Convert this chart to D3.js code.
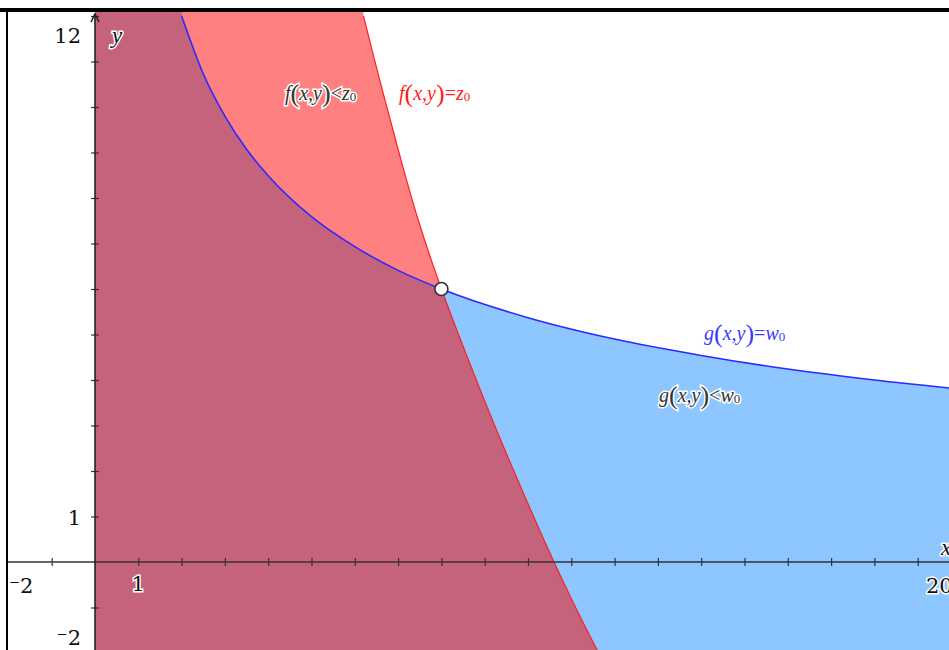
<!DOCTYPE html>
<html>
<head>
<meta charset="utf-8">
<script src="https://cdn.jsdelivr.net/npm/d3@7"></script>
<style>
  body { margin: 0; background: #fff; }
  svg { display: block; }
  .lbl { font-family: "Liberation Serif", serif; font-size: 20px; }
  .num { font-family: "DejaVu Serif", serif; font-size: 21px; fill: #111;
         stroke: #fff; stroke-width: 3px; paint-order: stroke; }
</style>
</head>
<body>
<div id="chart"></div>
<script>
// window bounds
var xDomain = [-2, 20];
var yDomain = [-2, 12];

// g(x,y)=w0 boundary
var gX = [2, 2.5, 3, 3.5, 4, 5, 6, 7, 8, 10, 12, 14, 16, 18, 20.2];
var gY = [12, 10.73, 9.8, 9.07, 8.49, 7.59, 6.93, 6.41, 6, 5.37, 4.9, 4.54, 4.24, 4.0, 3.78];

// f(x,y)=z0 boundary
var fX = [6.2, 6.6, 7.02, 7.47, 8.0, 8.6, 9.23, 9.9, 10.6, 11.1, 11.63];
var fY = [12, 10.5, 9, 7.5, 6, 4.5, 3, 1.5, 0, -1, -2];

var pt = [8, 6];

var xTicks = d3.range(-1, 21).filter(function(d) { return d !== 0; });
var yTicks = d3.range(-1, 13).filter(function(d) { return d !== 0; });

var W = 949, H = 650;
var svg = d3.select("#chart").append("svg")
  .attr("width", W).attr("height", H);

var x = d3.scaleLinear().domain(xDomain).range([8.4, 961]);
var y = d3.scaleLinear().domain(yDomain).range([653, 16]);

var defs = svg.append("defs");
defs.append("clipPath").attr("id", "plot")
  .append("rect").attr("x", 8).attr("y", 12).attr("width", W - 8).attr("height", H - 12);

var gPts = gX.map(function(d, i) { return [d, gY[i]]; });
var fPts = fX.map(function(d, i) { return [d, fY[i]]; });

var gArea = d3.area()
  .x(function(d) { return x(d[0]); })
  .y0(y(-3))
  .y1(function(d) { return y(d[1]); })
  .curve(d3.curveMonotoneX);

var fArea = d3.area()
  .y(function(d) { return y(d[1]); })
  .x0(x(0))
  .x1(function(d) { return x(d[0]); })
  .curve(d3.curveCatmullRom);

var gLine = d3.line()
  .x(function(d) { return x(d[0]); })
  .y(function(d) { return y(d[1]); })
  .curve(d3.curveMonotoneX);

var fLine = d3.line()
  .x(function(d) { return x(d[0]); })
  .y(function(d) { return y(d[1]); })
  .curve(d3.curveCatmullRom);

// region below g curve (x >= 0), used to cut the overlap
var gClip = defs.append("clipPath").attr("id", "gclip");
gClip.append("path").attr("d", gArea(gPts));
gClip.append("rect")
  .attr("x", x(0)).attr("y", 0)
  .attr("width", x(gX[0]) - x(0) + 0.5).attr("height", H);

var plot = svg.append("g").attr("clip-path", "url(#plot)");

plot.append("path").attr("d", gArea(gPts)).attr("fill", "#8ec6ff");
plot.append("rect")
  .attr("x", x(0)).attr("y", 0)
  .attr("width", x(gX[0]) - x(0) + 0.5).attr("height", H)
  .attr("fill", "#8ec6ff");

function fRegion(sel, color) {
  sel.append("path").attr("d", fArea(fPts)).attr("fill", color);
  sel.append("rect")
    .attr("x", x(0)).attr("y", 0)
    .attr("width", x(fX[0]) - x(0)).attr("height", y(fY[0]) + 0.5)
    .attr("fill", color);
}
fRegion(plot.append("g"), "#ff8080");
fRegion(plot.append("g").attr("clip-path", "url(#gclip)"), "#c5637c");

plot.append("path").attr("d", gLine(gPts))
  .attr("fill", "none").attr("stroke", "#2a2aff").attr("stroke-width", 1.6);
plot.append("path").attr("d", fLine(fPts))
  .attr("fill", "none").attr("stroke", "#ff2020").attr("stroke-width", 1.2);

// axes
var xAxis = plot.append("g")
  .attr("transform", "translate(0," + y(0) + ")")
  .call(d3.axisBottom(x).tickValues(xTicks).tickSize(4).tickFormat(""));
xAxis.select(".domain").remove();
xAxis.selectAll(".tick line").attr("y1", -4).attr("stroke", "#333").attr("stroke-width", 1.2);
plot.append("line")
  .attr("x1", 8).attr("x2", W).attr("y1", y(0)).attr("y2", y(0))
  .attr("stroke", "#333").attr("stroke-width", 1.6);

var yAxis = plot.append("g")
  .attr("transform", "translate(" + x(0) + ",0)")
  .call(d3.axisLeft(y).tickValues(yTicks).tickSize(4).tickFormat(""));
yAxis.select(".domain").remove();
yAxis.selectAll(".tick line").attr("x1", 4).attr("stroke", "#333").attr("stroke-width", 1.2);
plot.append("line")
  .attr("x1", x(0)).attr("x2", x(0)).attr("y1", 14).attr("y2", H)
  .attr("stroke", "#222").attr("stroke-width", 1.6);
plot.append("path")
  .attr("d", "M" + (x(0) - 4) + ",22 L" + x(0) + ",14 L" + (x(0) + 4) + ",22")
  .attr("fill", "none").attr("stroke", "#222").attr("stroke-width", 1.6);

// axis names
svg.append("text").attr("class", "num")
  .attr("x", 112).attr("y", 43)
  .style("font-style", "italic").style("font-family", "Liberation Serif")
  .style("font-size", "23px").text("y");
svg.append("text").attr("class", "num")
  .attr("x", 941).attr("y", 555)
  .style("font-style", "italic").style("font-family", "Liberation Serif")
  .style("font-size", "23px").text("x");

// tick labels
var numLabels = [
  {t: "12", x: 81, y: 43, a: "end"},
  {t: "1", x: 81, y: 525, a: "end"},
  {t: "\u207B2", x: 9, y: 593, a: "start"},
  {t: "1", x: x(1), y: 591, a: "middle"},
  {t: "\u207B2", x: 81, y: 645, a: "end"},
  {t: "20", x: 926, y: 593, a: "start"}
];
svg.selectAll(".numlab").data(numLabels).enter()
  .append("text").attr("class", "num")
  .attr("x", function(d) { return d.x; })
  .attr("y", function(d) { return d.y; })
  .attr("text-anchor", function(d) { return d.a; })
  .text(function(d) { return d.t; });

// intersection point
svg.append("circle")
  .attr("cx", x(pt[0])).attr("cy", y(pt[1])).attr("r", 6.5)
  .attr("fill", "#fff").attr("stroke", "#333").attr("stroke-width", 1.6);

// math labels
function mathLabel(px, py, fn, rel, rhs, color, halo) {
  var t = svg.append("text").attr("class", "lbl")
    .attr("x", px).attr("y", py).attr("fill", color);
  if (halo) t.attr("stroke", "#fff").attr("stroke-width", 3).style("paint-order", "stroke");
  t.append("tspan").style("font-style", "italic").text(fn);
  t.append("tspan").style("font-size", "26px").attr("dy", 2).text("(");
  t.append("tspan").style("font-style", "italic").attr("dy", -2).text("x,y");
  t.append("tspan").style("font-size", "26px").attr("dy", 2).text(")");
  t.append("tspan").attr("dy", -2).text(rel);
  t.append("tspan").style("font-style", "italic").text(rhs);
  t.append("tspan").style("font-size", "13px").attr("dy", 1).text("0");
}
mathLabel(285, 100, "f", "<", "z", "#333", true);
mathLabel(399, 100, "f", "=", "z", "#ff2020", false);
mathLabel(704, 340, "g", "=", "w", "#3a3aff", false);
mathLabel(659, 402, "g", "<", "w", "#333", true);

// frame
svg.append("rect").attr("x", 0).attr("y", 8).attr("width", W).attr("height", 4).attr("fill", "#000");
svg.append("rect").attr("x", 6).attr("y", 8).attr("width", 2).attr("height", H).attr("fill", "#000");
</script>
</body>
</html>
